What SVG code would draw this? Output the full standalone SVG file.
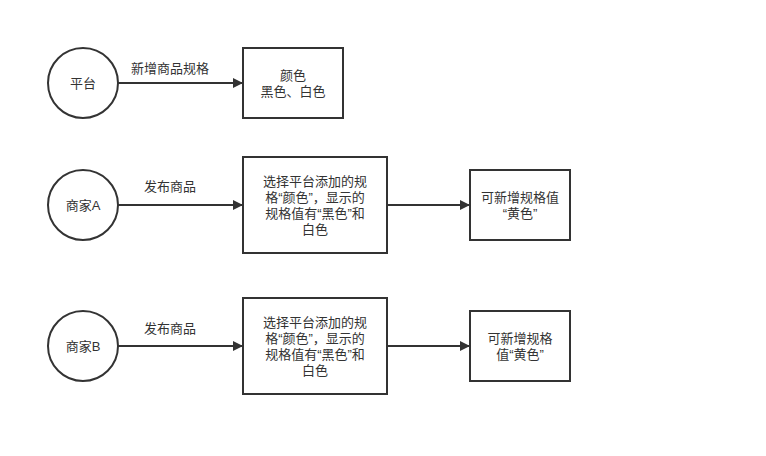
<svg xmlns="http://www.w3.org/2000/svg" width="766" height="456" viewBox="0 0 766 456">
<style>
.s{fill:#fff;stroke:#333;stroke-width:2}
text{font-family:"Liberation Sans","Noto Sans CJK SC",sans-serif;font-size:13px;fill:#333;text-anchor:middle}
.c line{stroke:#333;stroke-width:2;marker-end:url(#a)}
</style>
<defs><marker id="a" markerWidth="10" markerHeight="10" refX="9" refY="5" orient="auto" markerUnits="userSpaceOnUse"><path d="M0,0 L10,5 L0,10 Z" fill="#333"/></marker></defs>
<rect width="766" height="456" fill="#fff"/>
<g class="c">
<line x1="118" y1="83" x2="242" y2="83"/>
<line x1="118" y1="205" x2="242" y2="205"/>
<line x1="387" y1="205" x2="469" y2="205"/>
<line x1="118" y1="346" x2="242" y2="346"/>
<line x1="387" y1="346" x2="469" y2="346"/>
<text x="170" y="73">新增商品规格</text>
<text x="170" y="191">发布商品</text>
<text x="170" y="333">发布商品</text>
</g>
<g id="n1"><circle class="s" cx="83" cy="83" r="35"/><text x="83" y="88">平台</text></g>
<g id="n2"><rect class="s" x="243" y="48" width="100" height="70"/><text x="293" y="80">颜色</text><text x="293" y="96">黑色、白色</text></g>
<g id="n3"><circle class="s" cx="83" cy="205" r="35"/><text x="83" y="210">商家A</text></g>
<g id="n4"><rect class="s" x="243" y="157" width="144" height="96"/><text x="315" y="186">选择平台添加的规</text><text x="315" y="202">格“颜色”，显示的</text><text x="315" y="218">规格值有“黑色”和</text><text x="315" y="234">白色</text></g>
<g id="n5"><rect class="s" x="470" y="170" width="100" height="70"/><text x="520" y="202">可新增规格值</text><text x="520" y="218">“黄色”</text></g>
<g id="n6"><circle class="s" cx="83" cy="346" r="35"/><text x="83" y="351">商家B</text></g>
<g id="n7"><rect class="s" x="243" y="298" width="144" height="96"/><text x="315" y="327">选择平台添加的规</text><text x="315" y="343">格“颜色”，显示的</text><text x="315" y="359">规格值有“黑色”和</text><text x="315" y="375">白色</text></g>
<g id="n8"><rect class="s" x="470" y="311" width="100" height="70"/><text x="520" y="343">可新增规格</text><text x="520" y="359">值“黄色”</text></g>
</svg>
